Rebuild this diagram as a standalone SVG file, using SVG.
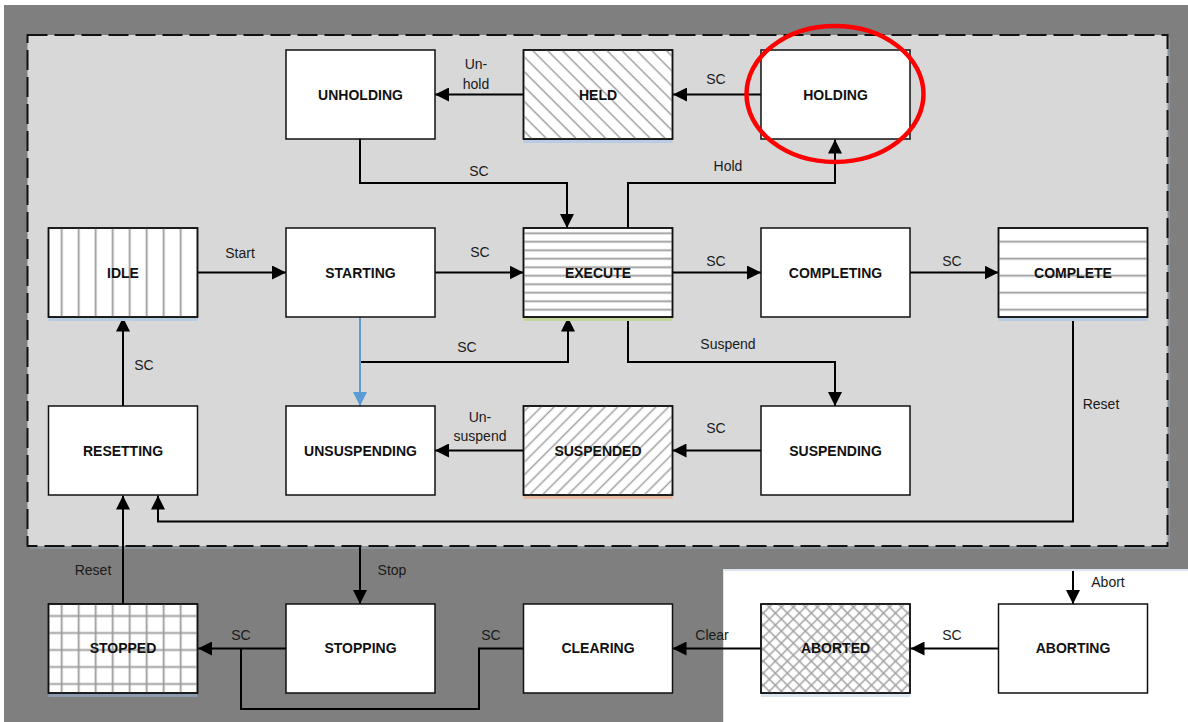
<svg xmlns="http://www.w3.org/2000/svg" width="1188" height="722" viewBox="0 0 1188 722">
<style>
.box{fill:#fff;stroke:#111;stroke-width:1.5}
.lbl{font-family:"Liberation Sans",Arial,sans-serif;font-size:14px;font-weight:bold;fill:#111;text-anchor:middle}
.t{font-family:"Liberation Sans",Arial,sans-serif;font-size:14px;fill:#1a1a1a;text-anchor:middle}
.c{fill:none;stroke:#000;stroke-width:2}
.h{stroke:#9a9a9a;stroke-width:1.8}
.hd{stroke:#a0a0a0;stroke-width:1.5}
</style>
<defs>
<marker id="ar" markerUnits="userSpaceOnUse" markerWidth="14" markerHeight="14" viewBox="0 0 13 13" refX="13" refY="6.5" orient="auto"><path d="M0,0 L13,6.5 L0,13 z" fill="#000"/></marker>
<marker id="arb" markerUnits="userSpaceOnUse" markerWidth="14" markerHeight="14" viewBox="0 0 13 13" refX="13" refY="6.5" orient="auto"><path d="M0,0 L13,6.5 L0,13 z" fill="#5b9bd5"/></marker>
<pattern id="pIdle" patternUnits="userSpaceOnUse" x="53.2" y="0" width="17" height="17"><line class="h" x1="8.5" y1="0" x2="8.5" y2="17"/></pattern>
<pattern id="pStop" patternUnits="userSpaceOnUse" x="53.2" y="607.5" width="17" height="17"><line class="h" x1="8.5" y1="0" x2="8.5" y2="17"/><line class="h" x1="0" y1="8.5" x2="17" y2="8.5"/></pattern>
<pattern id="pComp" patternUnits="userSpaceOnUse" x="0" y="233.2" width="17" height="17"><line class="h" x1="0" y1="8.5" x2="17" y2="8.5"/></pattern>
<pattern id="pExec" patternUnits="userSpaceOnUse" x="0" y="229" width="8.5" height="8.5"><line class="h" x1="0" y1="4.25" x2="8.5" y2="4.25"/></pattern>
<pattern id="pHeld" patternUnits="userSpaceOnUse" width="10.5" height="10.5" patternTransform="rotate(-45)"><line class="hd" x1="5" y1="0" x2="5" y2="10.5"/></pattern>
<pattern id="pSusp" patternUnits="userSpaceOnUse" width="9" height="9" patternTransform="rotate(45)"><line class="hd" x1="4.5" y1="0" x2="4.5" y2="9"/></pattern>
<pattern id="pAbort" patternUnits="userSpaceOnUse" width="8.5" height="8.5" patternTransform="rotate(45)"><line class="hd" x1="4.25" y1="0" x2="4.25" y2="8.5"/><line class="hd" x1="0" y1="4.25" x2="8.5" y2="4.25"/></pattern>
</defs>

<g id="background">
<rect x="0" y="0" width="1188" height="722" fill="#fff"/>
<rect x="4" y="5" width="1184" height="717" fill="#7f7f7f"/>
<rect x="723" y="569" width="465" height="153" fill="#dbe5f1"/>
<rect x="724" y="571" width="464" height="151" fill="#fff"/>
<rect x="30" y="37" width="1140" height="512" fill="#8b939b"/>
<rect x="27.5" y="35" width="1140" height="511" fill="#d8d8d8" stroke="#111" stroke-width="2" stroke-dasharray="20 7"/>
</g>

<g id="connectors">
<path class="c" d="M761 94.5 H673" marker-end="url(#ar)"/>
<path class="c" d="M523.5 94.5 H435" marker-end="url(#ar)"/>
<path class="c" d="M360 139 V183 H567 V228" marker-end="url(#ar)"/>
<path class="c" d="M628 228 V183 H835 V139.5" marker-end="url(#ar)"/>
<path class="c" d="M197.5 272.5 H286" marker-end="url(#ar)"/>
<path class="c" d="M435 272.5 H523.5" marker-end="url(#ar)"/>
<path class="c" d="M672.5 272.5 H761" marker-end="url(#ar)"/>
<path class="c" d="M910 272.5 H998.5" marker-end="url(#ar)"/>
<path fill="none" stroke="#5b9bd5" stroke-width="2" d="M360 317 V406" marker-end="url(#arb)"/>
<path class="c" d="M361 362 H568 V317.5" marker-end="url(#ar)"/>
<path class="c" d="M628 317 V362 H835 V406" marker-end="url(#ar)"/>
<path class="c" d="M761 450.5 H672.5" marker-end="url(#ar)"/>
<path class="c" d="M523.5 450.5 H435" marker-end="url(#ar)"/>
<path class="c" d="M123 406 V317.5" marker-end="url(#ar)"/>
<path class="c" d="M1073 317 V521.5 H158 V495.5" marker-end="url(#ar)"/>
<path class="c" d="M123 604 V495.5" marker-end="url(#ar)"/>
<path class="c" d="M360 546 V604" marker-end="url(#ar)"/>
<path class="c" d="M286 648.5 H198" marker-end="url(#ar)"/>
<path class="c" d="M523.5 648.5 H479 V709 H241 V648.5"/>
<path class="c" d="M761 648.5 H672.5" marker-end="url(#ar)"/>
<path class="c" d="M998.5 648.5 H910.5" marker-end="url(#ar)"/>
<path class="c" d="M1073 571 V604" marker-end="url(#ar)"/>
<text class="t" x="716" y="84">SC</text>
<text class="t" x="476" y="69">Un-</text>
<text class="t" x="476" y="88.5">hold</text>
<text class="t" x="479" y="176">SC</text>
<text class="t" x="728" y="171">Hold</text>
<text class="t" x="240" y="257.5">Start</text>
<text class="t" x="480" y="257">SC</text>
<text class="t" x="716" y="266">SC</text>
<text class="t" x="952" y="266">SC</text>
<text class="t" x="467" y="352">SC</text>
<text class="t" x="728" y="349">Suspend</text>
<text class="t" x="144" y="370">SC</text>
<text class="t" x="1101" y="408.5">Reset</text>
<text class="t" x="716" y="432.5">SC</text>
<text class="t" x="480" y="422">Un-</text>
<text class="t" x="480" y="441">suspend</text>
<text class="t" x="93" y="575">Reset</text>
<text class="t" x="392" y="575">Stop</text>
<text class="t" x="241" y="640">SC</text>
<text class="t" x="491" y="640">SC</text>
<text class="t" x="712" y="640">Clear</text>
<text class="t" x="952" y="640">SC</text>
<text class="t" x="1108" y="587">Abort</text>
</g>

<g id="n-unholding"><rect class="box" x="286" y="50" width="149" height="89"/><text class="lbl" x="360.5" y="99.5">UNHOLDING</text></g>
<g id="n-held"><rect x="523.5" y="139" width="149" height="4" fill="#b8cce4"/><rect class="box" x="523.5" y="50" width="149" height="89"/><rect x="523.5" y="50" width="149" height="89" fill="url(#pHeld)"/><rect x="523.5" y="50" width="149" height="89" fill="none" stroke="#111" stroke-width="1.5"/><text class="lbl" x="598" y="100">HELD</text></g>
<g id="n-holding"><rect class="box" x="761" y="50" width="149" height="89"/><text class="lbl" x="835.5" y="99.5">HOLDING</text></g>

<g id="n-idle"><rect x="48.5" y="317" width="149" height="4" fill="#b8cce4"/><rect class="box" x="48.5" y="228" width="149" height="89"/><rect x="48.5" y="228" width="149" height="89" fill="url(#pIdle)"/><rect x="48.5" y="228" width="149" height="89" fill="none" stroke="#111" stroke-width="1.5"/><text class="lbl" x="123" y="277.5">IDLE</text></g>
<g id="n-starting"><rect class="box" x="286" y="228" width="149" height="89"/><text class="lbl" x="360.5" y="277.5">STARTING</text></g>
<g id="n-execute"><rect x="523.5" y="317" width="149" height="4" fill="#c3d69b"/><rect class="box" x="523.5" y="228" width="149" height="89"/><rect x="523.5" y="228" width="149" height="89" fill="url(#pExec)"/><rect x="523.5" y="228" width="149" height="89" fill="none" stroke="#111" stroke-width="1.5"/><text class="lbl" x="598" y="277.5">EXECUTE</text></g>
<g id="n-completing"><rect class="box" x="761" y="228" width="149" height="89"/><text class="lbl" x="835.5" y="277.5">COMPLETING</text></g>
<g id="n-complete"><rect x="998.5" y="317" width="149" height="4" fill="#b8cce4"/><rect class="box" x="998.5" y="228" width="149" height="89"/><rect x="998.5" y="228" width="149" height="89" fill="url(#pComp)"/><rect x="998.5" y="228" width="149" height="89" fill="none" stroke="#111" stroke-width="1.5"/><text class="lbl" x="1073" y="277.5">COMPLETE</text></g>

<g id="n-resetting"><rect class="box" x="48.5" y="406" width="149" height="89"/><text class="lbl" x="123" y="455.5">RESETTING</text></g>
<g id="n-unsuspending"><rect class="box" x="286" y="406" width="149" height="89"/><text class="lbl" x="360.5" y="455.5">UNSUSPENDING</text></g>
<g id="n-suspended"><rect x="523.5" y="495" width="149" height="4" fill="#e6b9a0"/><rect class="box" x="523.5" y="406" width="149" height="89"/><rect x="523.5" y="406" width="149" height="89" fill="url(#pSusp)"/><rect x="523.5" y="406" width="149" height="89" fill="none" stroke="#111" stroke-width="1.5"/><text class="lbl" x="598" y="455.5">SUSPENDED</text></g>
<g id="n-suspending"><rect class="box" x="761" y="406" width="149" height="89"/><text class="lbl" x="835.5" y="455.5">SUSPENDING</text></g>

<g id="n-stopped"><rect x="48.5" y="693" width="149" height="4" fill="#8b9bb0"/><rect class="box" x="48.5" y="604" width="149" height="89"/><rect x="48.5" y="604" width="149" height="89" fill="url(#pStop)"/><rect x="48.5" y="604" width="149" height="89" fill="none" stroke="#111" stroke-width="1.5"/><text class="lbl" x="123" y="653">STOPPED</text></g>
<g id="n-stopping"><rect class="box" x="286" y="604" width="149" height="89"/><text class="lbl" x="360.5" y="653">STOPPING</text></g>
<g id="n-clearing"><rect class="box" x="523.5" y="604" width="149" height="89"/><text class="lbl" x="598" y="653">CLEARING</text></g>
<g id="n-aborted"><rect x="761" y="693" width="149" height="4" fill="#dbe5f1"/><rect class="box" x="761" y="604" width="149" height="89"/><rect x="761" y="604" width="149" height="89" fill="url(#pAbort)"/><rect x="761" y="604" width="149" height="89" fill="none" stroke="#111" stroke-width="1.5"/><text class="lbl" x="835.5" y="653">ABORTED</text></g>
<g id="n-aborting"><rect class="box" x="998.5" y="604" width="149" height="89"/><text class="lbl" x="1073" y="653">ABORTING</text></g>

<ellipse id="highlight" cx="835" cy="94" rx="88.5" ry="68" fill="none" stroke="#ff0000" stroke-width="4.5"/>
</svg>
